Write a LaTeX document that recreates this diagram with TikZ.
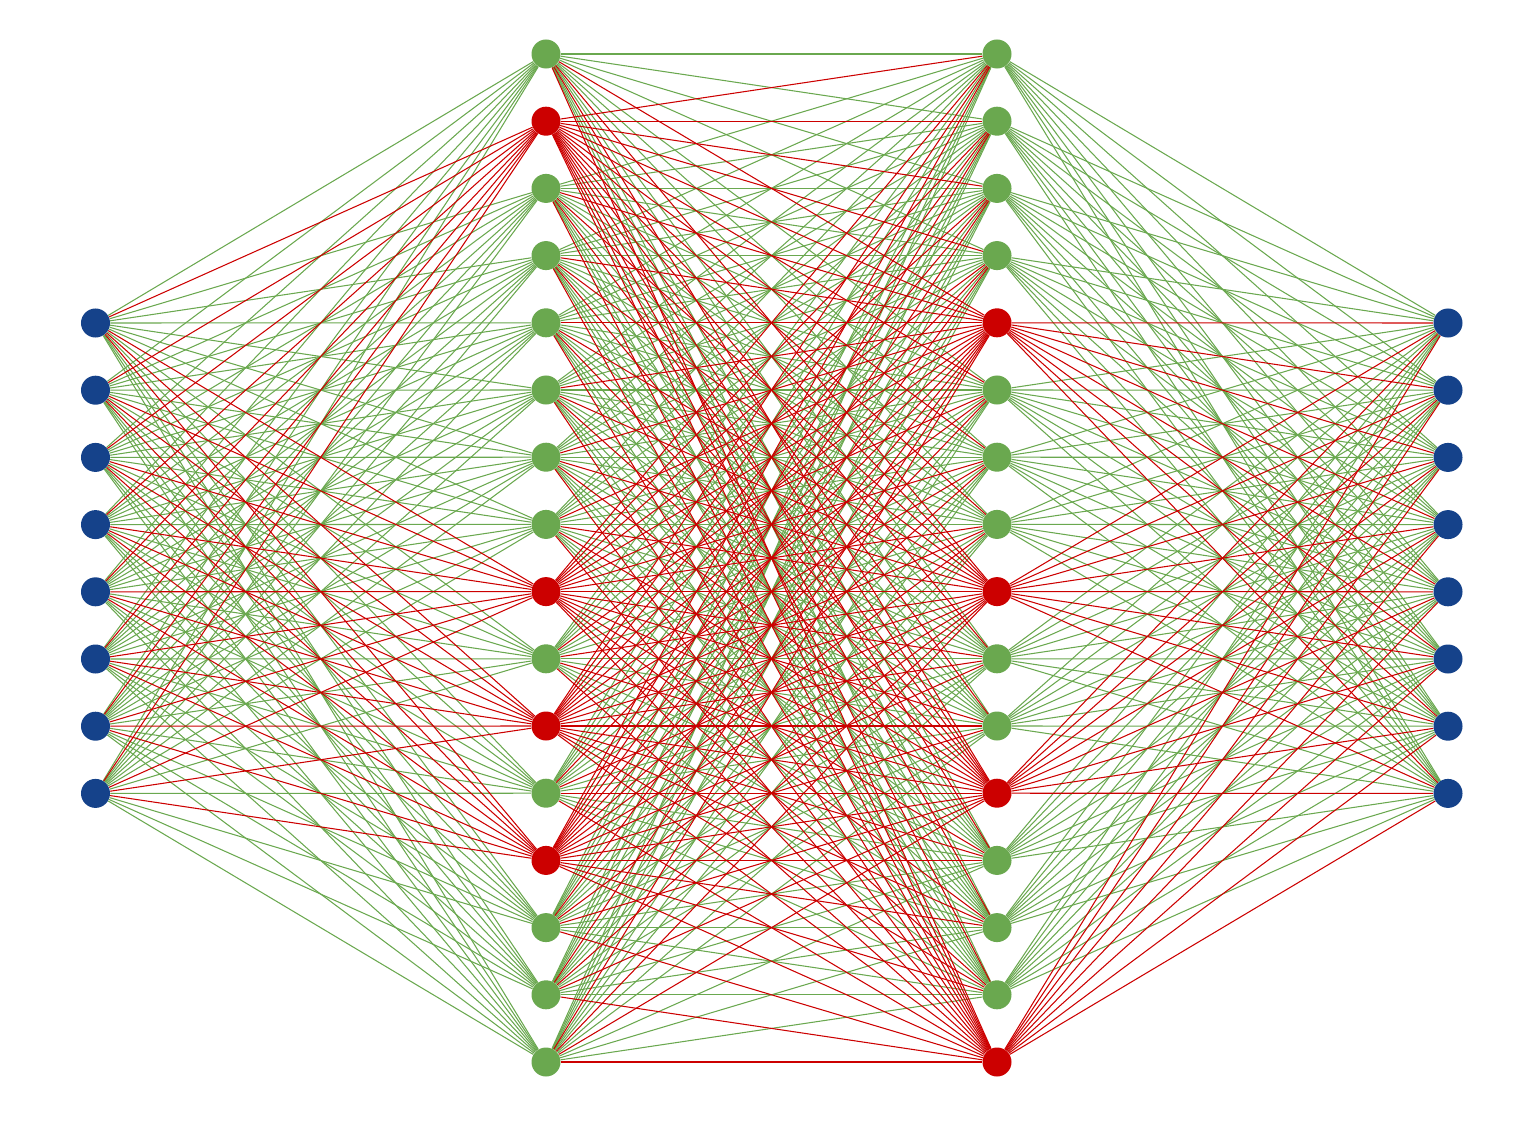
\documentclass[tikz,border=0pt]{standalone}
\definecolor{eg}{HTML}{6AA84F}
\definecolor{er}{HTML}{CC0000}
\definecolor{nb}{HTML}{15428A}
\pgfdeclarelayer{edges}
\pgfsetlayers{edges,main}
\begin{document}
\begin{tikzpicture}[x=0.025cm,y=-0.025cm,
  neuron/.style={circle,inner sep=0pt,minimum size=0.725cm,draw=none},
  inneuron/.style={neuron,fill=nb},
  gneuron/.style={neuron,fill=eg},
  rneuron/.style={neuron,fill=er},
  linkA/.style={draw=eg,line width=0.75pt},
  linkB/.style={draw=er,line width=0.75pt}]
\useasboundingbox (0,0) rectangle (1518,1136);
% input and output layers
\foreach \i in {0,...,7} {
  \pgfmathsetmacro\yy{323+67.2*\i}
  \node[inneuron] (a\i) at (95.5,\yy) {};
  \node[inneuron] (d\i) at (1448,\yy) {};
}
% hidden layers
\foreach \i in {0,...,15} {
  \pgfmathsetmacro\yy{54+67.2*\i}
  \pgfmathtruncatemacro\br{(\i==1)||(\i==8)||(\i==10)||(\i==12)}
  \pgfmathtruncatemacro\cr{(\i==4)||(\i==8)||(\i==11)||(\i==15)}
  \ifnum\br=1 \node[rneuron] (b\i) at (546,\yy) {};
  \else \node[gneuron] (b\i) at (546,\yy) {}; \fi
  \ifnum\cr=1 \node[rneuron] (c\i) at (997,\yy) {};
  \else \node[gneuron] (c\i) at (997,\yy) {}; \fi
}
\begin{pgfonlayer}{edges}
% green pass (A) then red pass (B)
\foreach \pass/\sty in {0/linkA,1/linkB} {
  \foreach \j in {0,...,15} {
    \pgfmathtruncatemacro\br{(\j==1)||(\j==8)||(\j==10)||(\j==12)}
    \pgfmathtruncatemacro\cr{(\j==4)||(\j==8)||(\j==11)||(\j==15)}
    \foreach \i in {0,...,7} {
      \ifnum\br=\pass\relax \draw[\sty] (a\i) -- (b\j); \fi
      \ifnum\cr=\pass\relax \draw[\sty] (c\j) -- (d\i); \fi
    }
    \foreach \k in {0,...,15} {
      \pgfmathtruncatemacro\kr{(\k==4)||(\k==8)||(\k==11)||(\k==15)}
      \pgfmathtruncatemacro\anyr{(\br==1)||(\kr==1)}
      \ifnum\anyr=\pass\relax \draw[\sty] (b\j) -- (c\k); \fi
    }
  }
}
\end{pgfonlayer}
\end{tikzpicture}
\end{document}
